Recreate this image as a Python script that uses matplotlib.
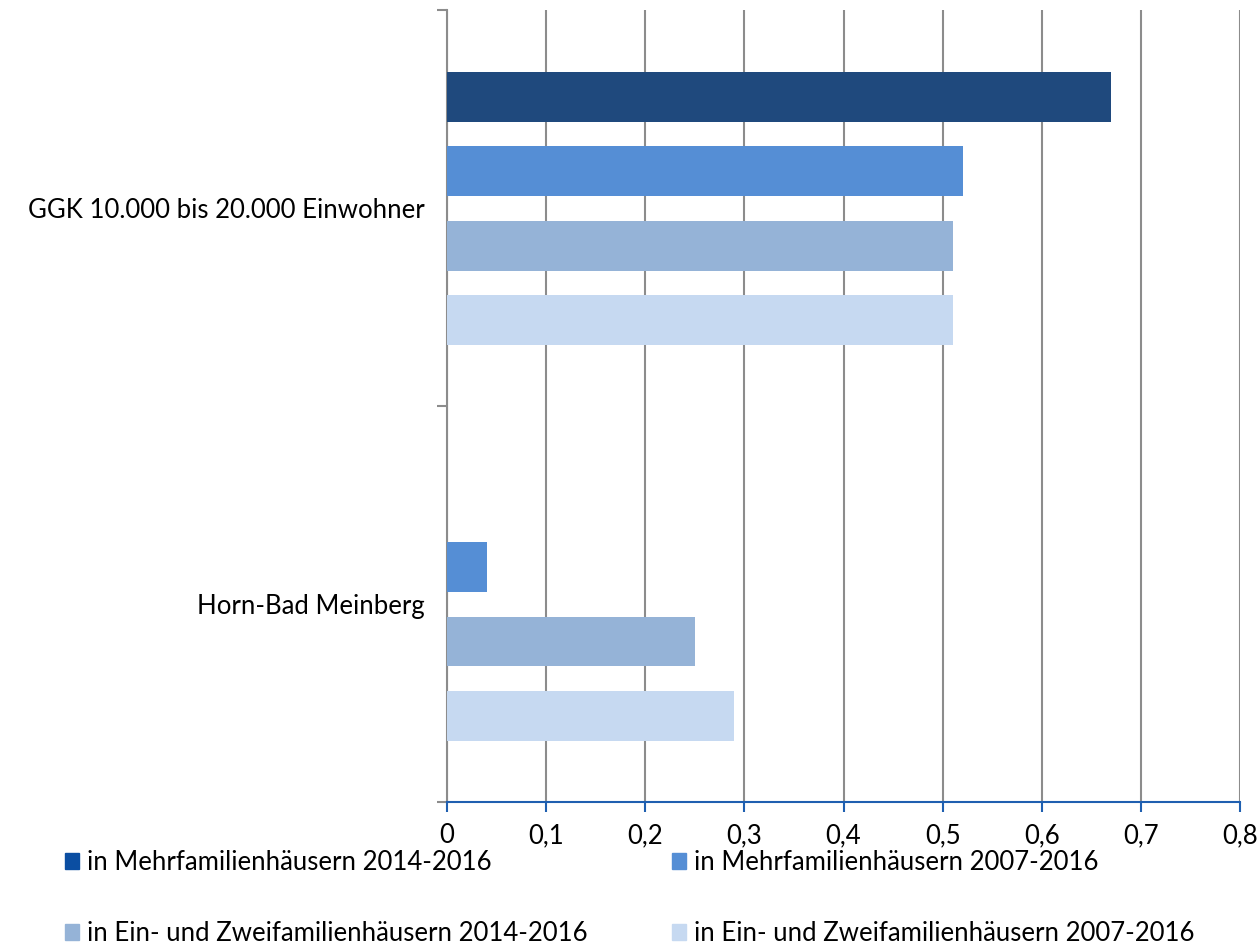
import numpy as np
import matplotlib.pyplot as plt
from matplotlib.patches import Patch

plt.rcParams['font.family'] = ['Lato', 'DejaVu Sans']

kategorien = ['Horn-Bad Meinberg', 'GGK 10.000 bis 20.000 Einwohner']
serien = ['in Mehrfamilienhäusern 2014-2016',
          'in Mehrfamilienhäusern 2007-2016',
          'in Ein- und Zweifamilienhäusern 2014-2016',
          'in Ein- und Zweifamilienhäusern 2007-2016']
werte = [[0.0, 0.67],
         [0.04, 0.52],
         [0.25, 0.51],
         [0.29, 0.51]]
farben = ['#1f497d', '#558ed5', '#95b3d7', '#c6d9f1']
legende_farben = ['#0b4ea2', '#558ed5', '#95b3d7', '#c6d9f1']
xticks = [0, 0.1, 0.2, 0.3, 0.4, 0.5, 0.6, 0.7, 0.8]

fig = plt.figure(figsize=(12.59, 9.46), dpi=100)
ax = fig.add_axes([0.355, 0.152, 0.630, 0.837])

y = np.arange(len(kategorien))
pitch = 0.188
hoehe = 0.126
for i, (w, c) in enumerate(zip(werte, farben)):
    ax.barh(y + (1.5 - i) * pitch, w, height=hoehe, color=c, zorder=3)

fs = 18.5
ax.set_xlim(0, 0.8)
ax.set_ylim(-0.5, 1.5)
ax.set_xticks(xticks)
ax.set_xticklabels([('%g' % v).replace('.', ',') for v in xticks], fontsize=fs)
ax.set_yticks(y)
ax.set_yticklabels(kategorien, fontsize=fs)
ax.tick_params(axis='y', length=0, pad=16)
ax.set_yticks([-0.5, 0.5, 1.5], minor=True)
ax.tick_params(axis='y', which='minor', length=7, width=1.5, color='#8c8c8c', direction='out')
ax.tick_params(axis='x', length=7, width=1.5, color='#1f5fb0', direction='out', pad=8)

ax.grid(axis='x', color='#8c8c8c', linewidth=1.5, zorder=0)
for s in ['top', 'right']:
    ax.spines[s].set_visible(False)
ax.spines['left'].set_color('#8c8c8c')
ax.spines['left'].set_linewidth(1.5)
ax.spines['bottom'].set_color('#1f5fb0')
ax.spines['bottom'].set_linewidth(1.5)
ax.spines['bottom'].set_zorder(4)

handles = [Patch(color=c, label=l) for c, l in zip(legende_farben, serien)]
order = [0, 2, 1, 3]
fig.legend([handles[k] for k in order], [serien[k] for k in order],
           loc='upper left', bbox_to_anchor=(0.033, 0.126), ncol=2,
           frameon=False, fontsize=fs, handlelength=0.55, handleheight=0.55,
           handletextpad=0.3, columnspacing=3.3, labelspacing=1.8)

fig.savefig('out.png', dpi=100)
